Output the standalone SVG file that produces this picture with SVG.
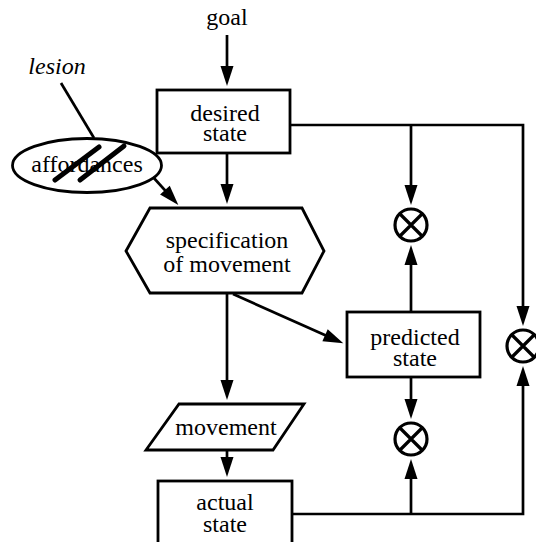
<svg xmlns="http://www.w3.org/2000/svg" width="536" height="542" viewBox="0 0 536 542">
<defs>
<marker id="ah" markerUnits="userSpaceOnUse" markerWidth="22" markerHeight="14" refX="12" refY="6.5" orient="auto" overflow="visible">
<path d="M0,0 L20,6.5 L0,13 Z" fill="#000"/>
</marker>
</defs>
<style>
.t{font-family:"Liberation Serif","Times New Roman",serif;font-size:24px;fill:#000;text-anchor:middle}
.it{font-style:italic}
.shape{fill:#fff;stroke:#000;stroke-width:2.8}
.c{fill:none;stroke:#000;stroke-width:2.7}
.arr{marker-end:url(#ah)}
.x{stroke:#000;stroke-width:3.2;fill:none}
.cut{stroke:#000;stroke-width:5;stroke-linecap:round}
</style>
<rect width="536" height="542" fill="#fff"/>
<g id="connectors">
<line class="c arr" x1="227" y1="35" x2="227" y2="78"/>
<line class="c arr" x1="227" y1="153" x2="227" y2="196"/>
<line class="c arr" x1="153" y1="177" x2="172.96" y2="199.1"/>
<line class="c arr" x1="227" y1="293" x2="227" y2="392"/>
<line class="c arr" x1="233" y1="294" x2="336" y2="340.1"/>
<line class="c arr" x1="227" y1="450" x2="227" y2="469"/>
<polyline class="c arr" points="290,125 523,125 523,318"/>
<line class="c arr" x1="411" y1="125" x2="411" y2="197"/>
<line class="c arr" x1="411" y1="312" x2="411" y2="253"/>
<line class="c arr" x1="411" y1="377" x2="411" y2="411"/>
<polyline class="c arr" points="292,514 523,514 523,374"/>
<line class="c arr" x1="411" y1="514" x2="411" y2="467"/>
<line class="c" x1="61" y1="83" x2="94" y2="138"/>
</g>
<g id="goal"><text class="t" x="227" y="25">goal</text></g>
<g id="lesion"><text class="t it" x="57" y="74">lesion</text></g>
<g id="desired-state">
<rect class="shape" x="157" y="90" width="133" height="63"/>
<text class="t" x="225" y="121">desired</text>
<text class="t" x="225" y="141">state</text>
</g>
<g id="affordances">
<ellipse class="shape" cx="87" cy="165.5" rx="74.5" ry="27"/>
<text class="t" x="87" y="172">affordances</text>
<line class="cut" x1="55" y1="180" x2="99" y2="147"/>
<line class="cut" x1="80" y1="180" x2="124" y2="146"/>
</g>
<g id="specification">
<polygon class="shape" points="126,251 150,208 302,208 324,251 302,293 150,293"/>
<text class="t" x="227" y="248">specification</text>
<text class="t" x="227" y="272">of movement</text>
</g>
<g id="predicted-state">
<rect class="shape" x="347" y="312" width="133" height="65"/>
<text class="t" x="415" y="345">predicted</text>
<text class="t" x="415" y="366">state</text>
</g>
<g id="movement">
<polygon class="shape" points="179,404 304,404 273,450 146,450"/>
<text class="t" x="226" y="435">movement</text>
</g>
<g id="actual-state">
<rect class="shape" x="158" y="481" width="134" height="80"/>
<text class="t" x="225" y="510">actual</text>
<text class="t" x="225" y="532">state</text>
</g>
<g id="comparator-top">
<circle class="x" cx="411" cy="225" r="16"/>
<path class="x" d="M400,214 L422,236 M422,214 L400,236"/>
</g>
<g id="comparator-bottom">
<circle class="x" cx="411" cy="439" r="16"/>
<path class="x" d="M400,428 L422,450 M422,428 L400,450"/>
</g>
<g id="comparator-right">
<circle class="x" cx="523" cy="346" r="16"/>
<path class="x" d="M512,335 L534,357 M534,335 L512,357"/>
</g>
</svg>
